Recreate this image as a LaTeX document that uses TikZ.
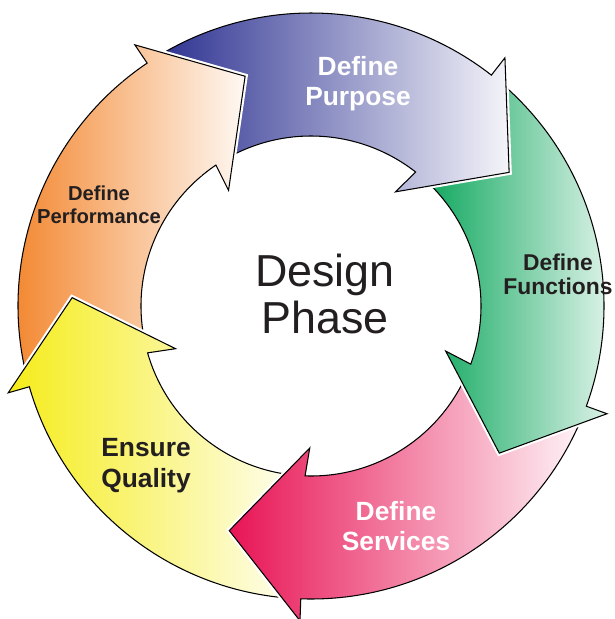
\documentclass[tikz,border=0pt]{standalone}
\usepackage{fontspec}
\setmainfont{Liberation Sans}
\usepackage{xcolor}
\usepackage{tikz}

\definecolor{purposeblue}{RGB}{45,50,145}
\definecolor{functiongreen}{RGB}{10,165,90}
\definecolor{servicered}{RGB}{232,20,85}
\definecolor{qualityyellow}{RGB}{245,236,25}
\definecolor{performorange}{RGB}{242,128,35}
\definecolor{inkblack}{RGB}{35,31,32}

% one curved arrow of the cycle: #1 tail angle, #2 angle where the head starts
\newcommand{\cyclearrow}[2]{(#1:5.86) arc[start angle=#1, end angle=#2, radius=5.86]
    -- (#2:6.3) -- ({#2-18}:4.78) -- ({#2+1.5}:2.84) -- (#2:3.4)
    arc[start angle=#2, end angle=#1, radius=3.4] -- cycle}

\begin{document}
\begin{tikzpicture}[
    phase/.style={preaction={draw=white, line width=3pt}, draw=black, line width=0.6pt,
        left color=#1, right color=#1!5!white},
    phasetext/.style={align=center, inner sep=0pt}]
    \useasboundingbox (-6.22,-6.26) rectangle (6.08,6.12);

    % Arrows, drawn backwards so that every head lies over the next tail
    \draw[phase=performorange] \cyclearrow{-166.5}{-236};
    \draw[phase=qualityyellow] \cyclearrow{-94.5}{-164};
    \draw[phase=servicered] \cyclearrow{-22.5}{-92};
    \draw[phase=functiongreen] \cyclearrow{49.5}{-20};
    \draw[phase=purposeblue] \cyclearrow{121.5}{52};

    % orange head again, over the blue tail
    \begin{scope}
        \clip (0,0) -- (100:7.2) -- (130:7.2) -- cycle;
        \draw[phase=performorange] \cyclearrow{-166.5}{-236};
    \end{scope}

    % Labels
    \node[phasetext, text=white, font=\bfseries\fontsize{15}{17}\selectfont] (purpose) at (0.94,4.44) {Define\\Purpose};
    \node[phasetext, text=inkblack, font=\bfseries\fontsize{13}{13.6}\selectfont] (functions) at (4.94,0.64) {Define\\Functions};
    \node[phasetext, text=white, font=\bfseries\fontsize{15}{17}\selectfont] (services) at (1.7,-4.4) {Define\\Services};
    \node[phasetext, text=inkblack, font=\bfseries\fontsize{15}{17.6}\selectfont] (quality) at (-3.3,-3.2) {Ensure\\Quality};
    \node[phasetext, text=inkblack, font=\bfseries\fontsize{11.5}{13}\selectfont] (performance) at (-4.24,2.02) {Define\\Performance};

    % Centre
    \node[phasetext, text=inkblack, font=\fontsize{25.5}{26.6}\selectfont] (design) at (0.28,0.24) {Design\\Phase};
\end{tikzpicture}
\end{document}
